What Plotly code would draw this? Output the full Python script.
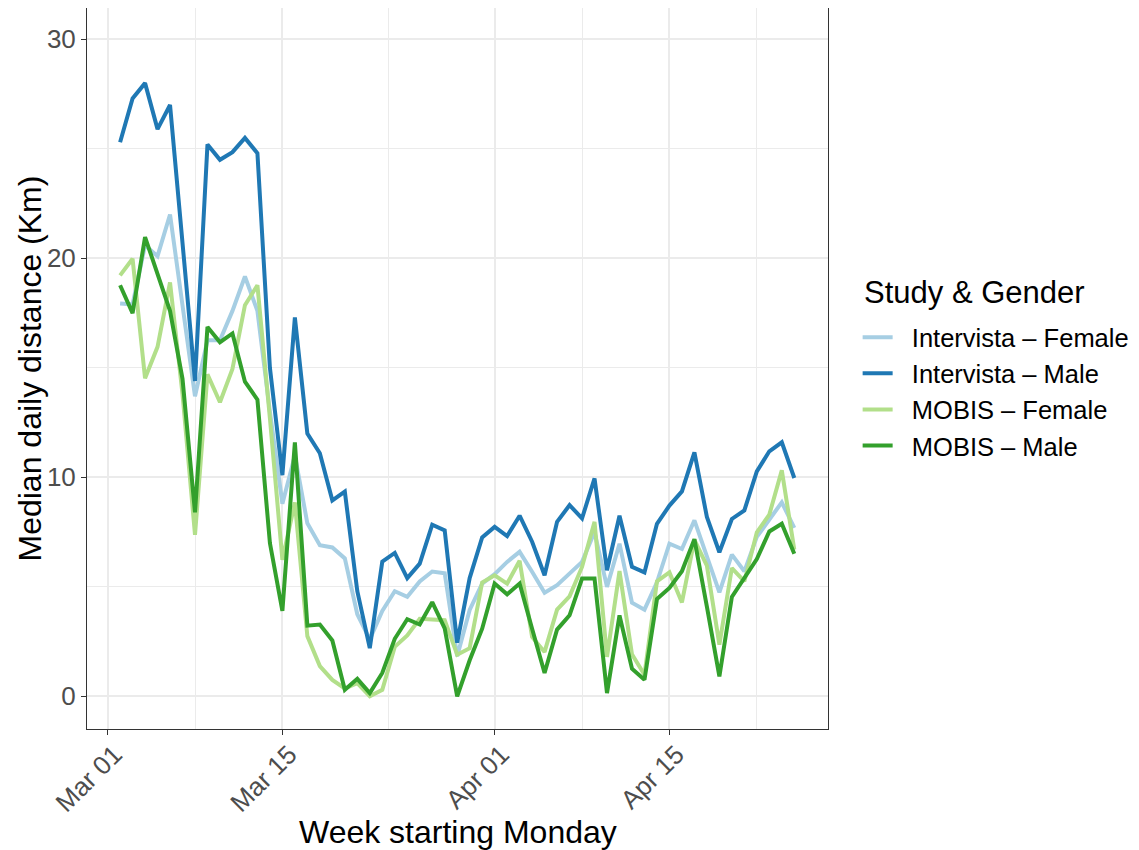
import pandas as pd
import plotly.graph_objects as go

dates = pd.date_range("2020-03-02", "2020-04-25", freq="D")

intervista_female = [
    17.94, 17.9, 20.6, 20.1, 22.0, 18.0, 13.7, 16.26, 16.26, 17.6,
    19.17, 17.6, 13.0, 8.8, 11.0, 7.9, 6.9, 6.8, 6.3, 3.75,
    2.6, 3.9, 4.8, 4.55, 5.25, 5.7, 5.62, 1.83, 3.95, 5.15,
    5.58, 6.14, 6.6, 5.69, 4.73, 5.08, 5.58, 6.14, 7.5, 5.0,
    6.97, 4.28, 3.96, 5.21, 6.97, 6.73, 8.04, 6.42, 4.75, 6.47,
    5.71, 7.28, 8.07, 8.86, 7.69,
]
intervista_male = [
    25.3, 27.3, 28.0, 25.9, 27.0, 20.6, 14.4, 25.2, 24.5, 24.85,
    25.5, 24.8, 15.0, 10.1, 17.3, 12.0, 11.1, 8.95, 9.35, 4.8,
    2.2, 6.15, 6.55, 5.4, 6.06, 7.84, 7.58, 2.45, 5.4, 7.26,
    7.74, 7.32, 8.25, 7.06, 5.53, 7.97, 8.73, 8.13, 9.95, 5.76,
    8.25, 5.92, 5.66, 7.88, 8.71, 9.36, 11.14, 8.19, 6.58, 8.1,
    8.49, 10.27, 11.19, 11.6, 9.97,
]
mobis_female = [
    19.22, 19.98, 14.52, 15.96, 18.9, 13.8, 7.38, 14.7, 13.43, 14.95,
    17.86, 18.77, 12.7, 6.24, 8.85, 2.75, 1.38, 0.75, 0.36, 0.6,
    0.0, 0.3, 2.26, 2.78, 3.54, 3.5, 3.48, 1.9, 2.2, 5.2,
    5.53, 5.15, 6.19, 2.71, 2.03, 3.96, 4.57, 5.91, 7.97, 1.8,
    5.72, 1.92, 0.99, 5.25, 5.66, 4.29, 7.15, 5.97, 2.36, 5.86,
    5.25, 7.49, 8.3, 10.32, 6.7,
]
mobis_male = [
    18.77, 17.5, 20.97, 19.3, 17.6, 14.5, 8.4, 16.87, 16.17, 16.57,
    14.37, 13.55, 7.0, 3.9, 11.6, 3.23, 3.28, 2.55, 0.3, 0.8,
    0.15, 1.07, 2.63, 3.52, 3.28, 4.3, 3.1, 0.0, 1.65, 3.09,
    5.15, 4.66, 5.15, 3.09, 1.07, 3.05, 3.7, 5.38, 5.38, 0.15,
    3.7, 1.26, 0.76, 4.44, 4.95, 5.71, 7.18, 4.1, 0.91, 4.54,
    5.4, 6.27, 7.53, 7.88, 6.51,
]

series_names = ["Intervista \u2013 Female", "Intervista \u2013 Male",
                "MOBIS \u2013 Female", "MOBIS \u2013 Male"]
series_values = [intervista_female, intervista_male, mobis_female, mobis_male]
series_colors = ["#A6CEE3", "#1F78B4", "#B2DF8A", "#33A02C"]

x_tick_vals = ["2020-03-01", "2020-03-15", "2020-04-01", "2020-04-15"]
x_tick_text = ["Mar 01", "Mar 15", "Apr 01", "Apr 15"]
x_minor_vals = ["2020-03-08", "2020-03-23 12:00", "2020-04-08", "2020-04-22"]
y_tick_vals = [0, 10, 20, 30]
y_minor_vals = [5, 15, 25]

FONT = "Liberation Sans, Arial, Helvetica, sans-serif"
PAD = "\u00a0\u00a0"

fig = go.Figure()
for name, vals, col in zip(series_names, series_values, series_colors):
    fig.add_trace(go.Scatter(
        x=dates, y=vals, mode="lines", name=PAD + name,
        line=dict(color=col, width=4),
    ))

grid = "#EBEBEB"
fig.update_layout(
    width=1139, height=850,
    margin=dict(l=79, r=319, t=0, b=129),
    paper_bgcolor="white", plot_bgcolor="white",
    font=dict(family=FONT, color="black"),
    showlegend=True,
    legend=dict(
        font=dict(size=25.5, color="black"),
        x=1.04, xanchor="left", y=0.468, yanchor="middle",
        tracegroupgap=0,
        bgcolor="rgba(0,0,0,0)",
    ),
    xaxis=dict(
        range=["2020-02-28 08:24", "2020-04-27 16:48"],
        tickmode="array", tickvals=x_tick_vals, ticktext=x_tick_text,
        tickangle=-45,
        tickfont=dict(size=26, color="#4D4D4D"),
        ticklabelstandoff=-6, ticklabelshift=7,
        ticks="outside", ticklen=5, tickwidth=1, tickcolor="#333333",
        showgrid=True, gridcolor=grid, gridwidth=2,
        minor=dict(tickmode="array", tickvals=x_minor_vals, showgrid=True,
                   gridcolor=grid, gridwidth=1.2, ticks=""),
        showline=True, linecolor="#333333", linewidth=1, mirror=True,
        zeroline=False,
    ),
    yaxis=dict(
        range=[-1.49, 31.43],
        tickmode="array", tickvals=y_tick_vals,
        tickfont=dict(size=26, color="#4D4D4D"),
        ticks="outside", ticklen=5, tickwidth=1, tickcolor="#333333",
        showgrid=True, gridcolor=grid, gridwidth=2,
        minor=dict(tickmode="array", tickvals=y_minor_vals, showgrid=True,
                   gridcolor=grid, gridwidth=1.2, ticks=""),
        showline=True, linecolor="#333333", linewidth=1, mirror=True,
        zeroline=False,
    ),
    annotations=[
        dict(text="Week starting Monday", xref="paper", yref="paper",
             x=0.5, y=0, yshift=-103, xanchor="center", yanchor="middle",
             showarrow=False, font=dict(size=32, color="black")),
        dict(text="Median daily distance (Km)", xref="paper", yref="paper",
             x=0, y=0.5, xshift=-58, xanchor="center", yanchor="middle",
             textangle=-90, showarrow=False,
             font=dict(size=32, color="black")),
        dict(text="Study & Gender", xref="paper", yref="paper",
             x=1.046, y=0.606, xanchor="left", yanchor="middle",
             showarrow=False, font=dict(size=31, color="black")),
    ],
)

fig.write_html("out.html")
